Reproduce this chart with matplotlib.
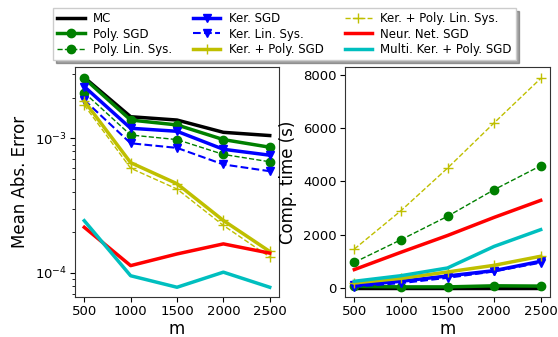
import matplotlib.pyplot as plt
import numpy as np

m = [500, 1000, 1500, 2000, 2500]

# mean absolute error
err_mc = [2.84e-3, 1.45e-3, 1.37e-3, 1.11e-3, 1.05e-3]
err_poly_sgd = [2.80e-3, 1.37e-3, 1.26e-3, 0.98e-3, 0.86e-3]
err_poly_lin = [2.19e-3, 1.06e-3, 0.98e-3, 0.76e-3, 0.67e-3]
err_ker_sgd = [2.43e-3, 1.19e-3, 1.13e-3, 0.83e-3, 0.75e-3]
err_ker_lin = [1.93e-3, 0.92e-3, 0.85e-3, 0.64e-3, 0.57e-3]
err_kp_sgd = [1.90e-3, 0.66e-3, 0.46e-3, 0.245e-3, 0.144e-3]
err_kp_lin = [1.77e-3, 0.60e-3, 0.42e-3, 0.225e-3, 0.131e-3]
err_nn = [0.218e-3, 0.113e-3, 0.138e-3, 0.164e-3, 0.140e-3]
err_multi = [0.244e-3, 0.095e-3, 0.078e-3, 0.101e-3, 0.078e-3]

# computation time (s)
t_mc = [10, 10, 10, 10, 10]
t_poly_sgd = [60, 40, 40, 80, 70]
t_poly_lin = [960, 1810, 2690, 3690, 4590]
t_ker_sgd = [100, 250, 450, 650, 1000]
t_ker_lin = [50, 180, 380, 620, 950]
t_kp_sgd = [190, 360, 600, 850, 1190]
t_kp_lin = [1460, 2900, 4500, 6200, 7870]
t_nn = [690, 1340, 1970, 2650, 3290]
t_multi = [250, 460, 750, 1560, 2190]

labels = ["MC", "Poly. SGD", "Poly. Lin. Sys.", "Ker. SGD", "Ker. Lin. Sys.",
          "Ker. + Poly. SGD", "Ker. + Poly. Lin. Sys.", "Neur. Net. SGD",
          "Multi. Ker. + Poly. SGD"]
styles = [dict(color="k", ls="-", lw=2.5),
          dict(color="g", ls="-", lw=2.5, marker="o", ms=6),
          dict(color="g", ls="--", lw=1, marker="o", ms=6),
          dict(color="b", ls="-", lw=2.5, marker="v", ms=6),
          dict(color="b", ls="--", lw=1.5, marker="v", ms=6),
          dict(color="y", ls="-", lw=2.5, marker="+", ms=7),
          dict(color="y", ls="--", lw=1, marker="+", ms=7),
          dict(color="r", ls="-", lw=2.5),
          dict(color="c", ls="-", lw=2.5)]

errs = [err_mc, err_poly_sgd, err_poly_lin, err_ker_sgd, err_ker_lin,
        err_kp_sgd, err_kp_lin, err_nn, err_multi]
times = [t_mc, t_poly_sgd, t_poly_lin, t_ker_sgd, t_ker_lin,
         t_kp_sgd, t_kp_lin, t_nn, t_multi]

fig = plt.figure(figsize=(5.58, 3.37), dpi=100)
ax1 = fig.add_axes([75/558, 40/337, 204/558, 230/337])
ax2 = fig.add_axes([345/558, 40/337, 205/558, 230/337])

for lab, st, e, t in zip(labels, styles, errs, times):
    ax1.plot(m, e, label=lab, **st)
    ax2.plot(m, t, **st)

ax1.set_yscale("log")
ax1.set_ylim(6.6e-5, 3.4e-3)
ax1.set_ylabel("Mean Abs. Error", fontsize=12)
ax1.set_xlabel("m", fontsize=12, labelpad=1)
ax2.set_ylabel("Comp. time (s)", fontsize=12)
ax2.set_xlabel("m", fontsize=12, labelpad=1)
ax2.set_ylim(-340, 8300)
for ax in (ax1, ax2):
    ax.set_xticks(m)
    ax.tick_params(labelsize=9.5, pad=2.5)
    for s in ax.spines.values():
        s.set_color("0.2")

fig.legend(loc="upper center", bbox_to_anchor=(0.51, 0.976), ncol=3,
           fontsize=8.5, shadow=True, fancybox=False, framealpha=1,
           handlelength=2.3, columnspacing=1.8, labelspacing=0.2,
           borderpad=0.35, handletextpad=0.7, borderaxespad=0)

plt.savefig("out.png", dpi=100)
